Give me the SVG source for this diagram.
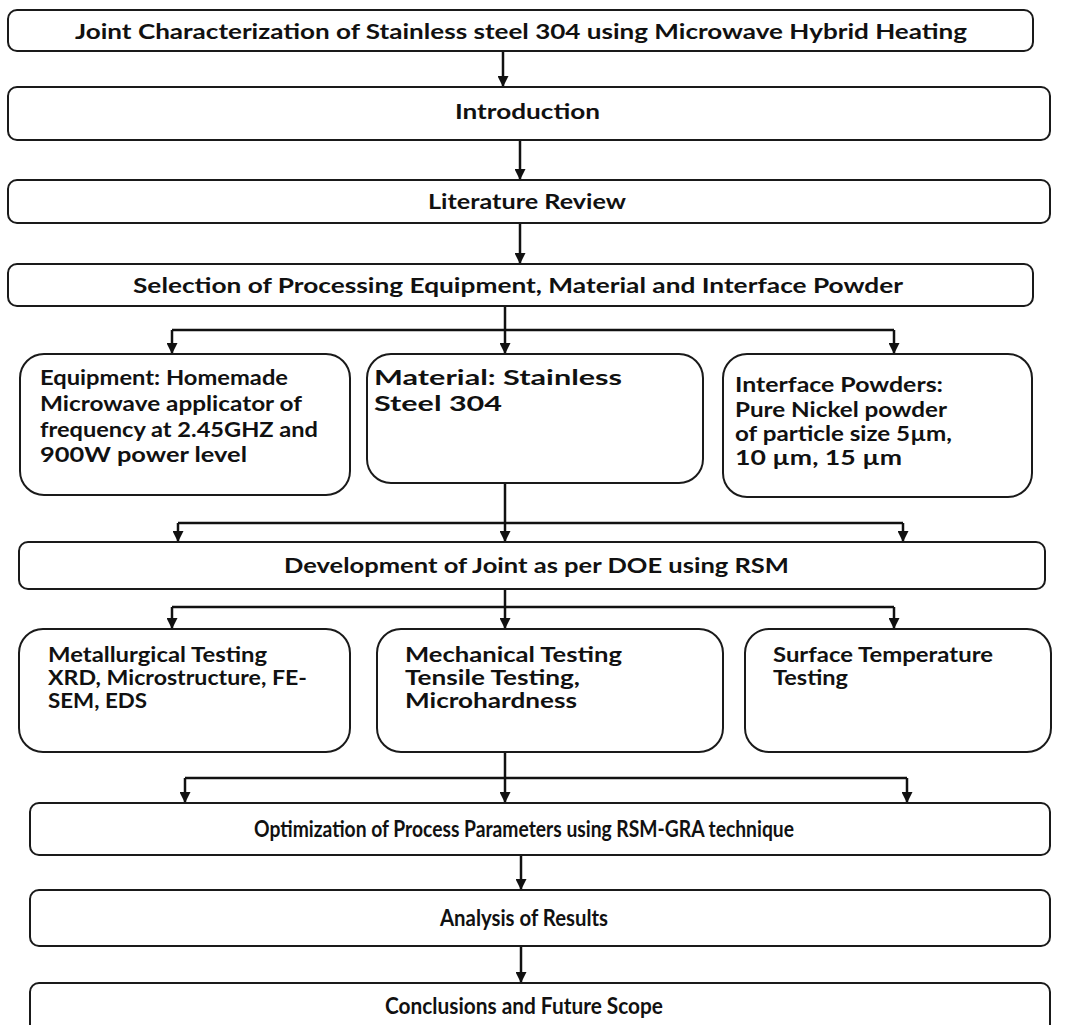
<svg xmlns="http://www.w3.org/2000/svg" width="1070" height="1025" viewBox="0 0 1070 1025">
<style>
.box{fill:#fff;stroke:#1a1a1a;stroke-width:2}
.t{font-family:Lato,"Liberation Sans",Arial,sans-serif;font-weight:700;font-size:21px;fill:#111}
.b{font-size:23px;text-anchor:middle}
.ln{fill:none;stroke:#111;stroke-width:2.5}
</style>
<defs>
<marker id="ah" viewBox="0 0 10 10" refX="10" refY="5" markerWidth="12" markerHeight="11" markerUnits="userSpaceOnUse" orient="auto">
<path d="M0,0 L10,5 L0,10 z" fill="#111"/>
</marker>
</defs>
<rect width="1070" height="1025" fill="#fff"/>
<g id="connectors">
<path class="ln" d="M503,51 V87" marker-end="url(#ah)"/>
<path class="ln" d="M520,140 V180" marker-end="url(#ah)"/>
<path class="ln" d="M520,223 V264" marker-end="url(#ah)"/>
<path class="ln" d="M505,306 V354" marker-end="url(#ah)"/>
<path class="ln" d="M172,330 H894"/>
<path class="ln" d="M172,330 V354" marker-end="url(#ah)"/>
<path class="ln" d="M894,330 V354" marker-end="url(#ah)"/>
<path class="ln" d="M505,483 V542" marker-end="url(#ah)"/>
<path class="ln" d="M178,523 H903"/>
<path class="ln" d="M178,523 V542" marker-end="url(#ah)"/>
<path class="ln" d="M903,523 V542" marker-end="url(#ah)"/>
<path class="ln" d="M505,589 V629" marker-end="url(#ah)"/>
<path class="ln" d="M172,607 H894"/>
<path class="ln" d="M172,607 V629" marker-end="url(#ah)"/>
<path class="ln" d="M894,607 V629" marker-end="url(#ah)"/>
<path class="ln" d="M505,752 V803" marker-end="url(#ah)"/>
<path class="ln" d="M185,778 H907"/>
<path class="ln" d="M185,778 V803" marker-end="url(#ah)"/>
<path class="ln" d="M907,778 V803" marker-end="url(#ah)"/>
<path class="ln" d="M521,855 V890" marker-end="url(#ah)"/>
<path class="ln" d="M521,946 V983" marker-end="url(#ah)"/>
</g>
<g id="n-title">
<rect class="box" x="8" y="10" width="1025" height="41" rx="9"/>
<text class="t" x="75" y="39" textLength="892" lengthAdjust="spacingAndGlyphs">Joint Characterization of Stainless steel 304 using Microwave Hybrid Heating</text>
</g>
<g id="n-intro">
<rect class="box" x="8" y="87" width="1042" height="53" rx="9"/>
<text class="t" x="455" y="119" textLength="145" lengthAdjust="spacingAndGlyphs">Introduction</text>
</g>
<g id="n-lit">
<rect class="box" x="8" y="180" width="1042" height="43" rx="9"/>
<text class="t" x="428" y="209" textLength="198" lengthAdjust="spacingAndGlyphs">Literature Review</text>
</g>
<g id="n-select">
<rect class="box" x="8" y="264" width="1025" height="42" rx="9"/>
<text class="t" x="133" y="293" textLength="770" lengthAdjust="spacingAndGlyphs">Selection of Processing Equipment, Material and Interface Powder</text>
</g>
<g id="n-equip">
<rect class="box" x="20" y="354" width="330" height="141" rx="24"/>
<text class="t" x="40" y="385" textLength="248" lengthAdjust="spacingAndGlyphs">Equipment: Homemade</text>
<text class="t" x="40" y="411" textLength="262" lengthAdjust="spacingAndGlyphs">Microwave applicator of</text>
<text class="t" x="40" y="437" textLength="278" lengthAdjust="spacingAndGlyphs">frequency at 2.45GHZ and</text>
<text class="t" x="40" y="462" textLength="207" lengthAdjust="spacingAndGlyphs">900W power  level</text>
</g>
<g id="n-material">
<rect class="box" x="367" y="354" width="336" height="129" rx="24"/>
<text class="t" x="374" y="385" textLength="248" lengthAdjust="spacingAndGlyphs">Material: Stainless</text>
<text class="t" x="374" y="411" textLength="128" lengthAdjust="spacingAndGlyphs">Steel 304</text>
</g>
<g id="n-powder">
<rect class="box" x="723" y="354" width="309" height="143" rx="24"/>
<text class="t" x="735" y="392" textLength="208" lengthAdjust="spacingAndGlyphs">Interface Powders:</text>
<text class="t" x="735" y="417" textLength="212" lengthAdjust="spacingAndGlyphs">Pure Nickel  powder</text>
<text class="t" x="735" y="441" textLength="217" lengthAdjust="spacingAndGlyphs">of particle size 5µm,</text>
<text class="t" x="735" y="465" textLength="167" lengthAdjust="spacingAndGlyphs">10 µm, 15 µm</text>
</g>
<g id="n-dev">
<rect class="box" x="19" y="542" width="1026" height="47" rx="9"/>
<text class="t" x="284" y="573" textLength="505" lengthAdjust="spacingAndGlyphs">Development of Joint as per DOE using RSM</text>
</g>
<g id="n-metal">
<rect class="box" x="19" y="629" width="331" height="123" rx="24"/>
<text class="t" x="48" y="662" textLength="219" lengthAdjust="spacingAndGlyphs">Metallurgical Testing</text>
<text class="t" x="48" y="685" textLength="259" lengthAdjust="spacingAndGlyphs">XRD, Microstructure, FE-</text>
<text class="t" x="48" y="708" textLength="99" lengthAdjust="spacingAndGlyphs">SEM, EDS</text>
</g>
<g id="n-mech">
<rect class="box" x="377" y="629" width="346" height="123" rx="24"/>
<text class="t" x="405" y="662" textLength="217" lengthAdjust="spacingAndGlyphs">Mechanical Testing</text>
<text class="t" x="405" y="685" textLength="175" lengthAdjust="spacingAndGlyphs">Tensile Testing,</text>
<text class="t" x="405" y="708" textLength="172" lengthAdjust="spacingAndGlyphs">Microhardness</text>
</g>
<g id="n-surface">
<rect class="box" x="745" y="629" width="306" height="123" rx="24"/>
<text class="t" x="773" y="662" textLength="220" lengthAdjust="spacingAndGlyphs">Surface Temperature</text>
<text class="t" x="773" y="685" textLength="75" lengthAdjust="spacingAndGlyphs">Testing</text>
</g>
<g id="n-opt">
<rect class="box" x="30" y="803" width="1020" height="52" rx="9"/>
<text class="t b" x="524" y="837" textLength="540" lengthAdjust="spacingAndGlyphs">Optimization of Process Parameters using RSM-GRA technique</text>
</g>
<g id="n-analysis">
<rect class="box" x="30" y="890" width="1020" height="56" rx="9"/>
<text class="t b" x="524" y="926" textLength="168" lengthAdjust="spacingAndGlyphs">Analysis of Results</text>
</g>
<g id="n-concl">
<rect class="box" x="30" y="983" width="1020" height="60" rx="9"/>
<text class="t b" x="524" y="1014" textLength="278" lengthAdjust="spacingAndGlyphs">Conclusions and Future Scope</text>
</g>
</svg>
